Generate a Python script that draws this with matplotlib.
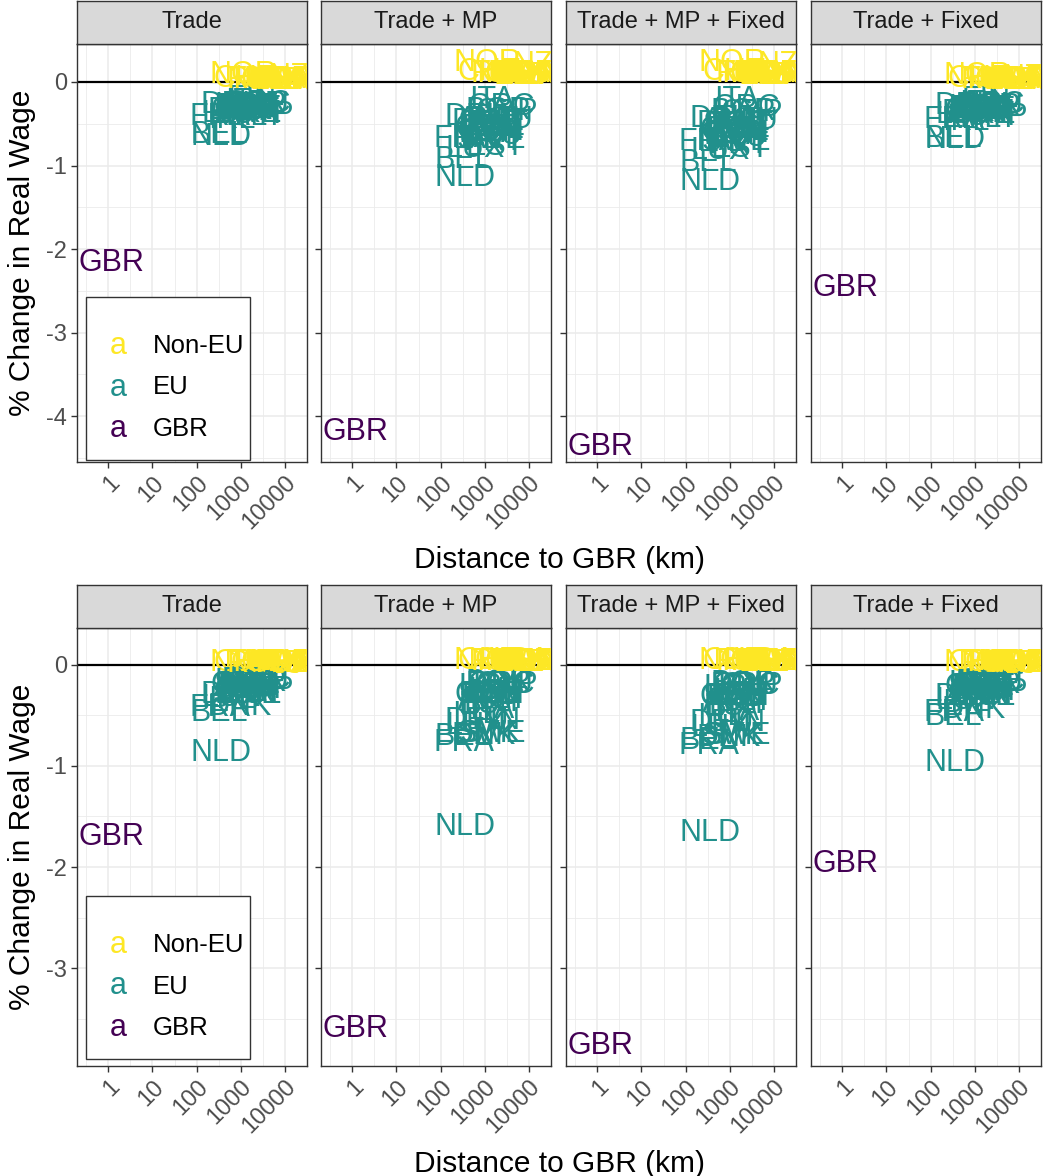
import numpy as np
import matplotlib
matplotlib.use("Agg")
import matplotlib.pyplot as plt
from matplotlib.patches import Rectangle

plt.rcParams['font.family'] = ['Liberation Sans', 'DejaVu Sans']

# ---- data -------------------------------------------------------------
countries = ["AUS", "AUT", "BEL", "BGR", "BRA", "CAN", "CHE", "CHN", "CYP", "CZE",
             "DEU", "DNK", "ESP", "EST", "FIN", "FRA", "GBR", "GRC", "HRV", "HUN",
             "IDN", "IND", "IRL", "ITA", "JPN", "KOR", "LTU", "LUX", "LVA", "MEX",
             "MLT", "NLD", "NOR", "NZL", "POL", "PRT", "ROU", "RUS", "SVK", "SVN",
             "SWE", "TUR", "TWN", "USA"]
distance_km = [17000, 1240, 320, 2020, 9200, 5400, 1300, 8100, 3200, 1030,
               640, 950, 1260, 1760, 1820, 340, 1.2, 2390, 1360, 1450,
               11700, 6700, 620, 1430, 9600, 8900, 1730, 600, 1680, 8900,
               2100, 360, 1150, 18800, 1450, 1580, 2100, 2500, 1300, 1220,
               1430, 2500, 9800, 5900]
group = ["Non-EU", "EU", "EU", "EU", "Non-EU", "Non-EU", "Non-EU", "Non-EU", "EU", "EU",
         "EU", "EU", "EU", "EU", "EU", "EU", "GBR", "EU", "EU", "EU",
         "Non-EU", "Non-EU", "EU", "EU", "Non-EU", "Non-EU", "EU", "EU", "EU", "Non-EU",
         "EU", "EU", "Non-EU", "Non-EU", "EU", "EU", "EU", "Non-EU", "EU", "EU",
         "EU", "Non-EU", "Non-EU", "Non-EU"]

scenarios = ["Trade", "Trade + MP", "Trade + MP + Fixed", "Trade + Fixed"]

# % change in real wage, first figure
top_trade = [0.01, -0.30, -0.64, -0.28, 0.01, 0.02, 0.03, 0.01, -0.40, -0.33,
             -0.27, -0.35, -0.30, -0.32, -0.20, -0.42, -2.17, -0.26, -0.29, -0.36,
             0.01, 0.01, -0.45, -0.24, 0.01, 0.02, -0.31, -0.38, -0.33, 0.01,
             -0.42, -0.66, 0.08, 0.06, -0.30, -0.35, -0.27, 0.02, -0.32, -0.30,
             -0.38, 0.02, 0.01, 0.02]
top_mp = [0.08, -0.45, -0.93, -0.35, 0.07, 0.10, 0.12, 0.08, -0.36, -0.55,
          -0.42, -0.48, -0.62, -0.78, -0.56, -0.68, -4.19, -0.30, -0.50, -0.60,
          0.07, 0.07, -0.70, -0.22, 0.09, 0.10, -0.65, -0.80, -0.60, 0.07,
          -0.50, -1.15, 0.23, 0.20, -0.55, -0.72, -0.45, 0.10, -0.60, -0.50,
          -0.70, 0.10, 0.09, 0.10]
top_mpf = [0.08, -0.47, -0.97, -0.36, 0.07, 0.10, 0.12, 0.08, -0.37, -0.57,
           -0.44, -0.50, -0.65, -0.80, -0.58, -0.72, -4.37, -0.31, -0.52, -0.62,
           0.07, 0.07, -0.73, -0.22, 0.09, 0.10, -0.67, -0.83, -0.62, 0.07,
           -0.52, -1.20, 0.23, 0.20, -0.57, -0.75, -0.47, 0.10, -0.62, -0.52,
           -0.72, 0.10, 0.09, 0.10]
top_fixed = [0.01, -0.32, -0.68, -0.30, 0.01, 0.02, 0.03, 0.01, -0.42, -0.35,
             -0.29, -0.37, -0.32, -0.34, -0.22, -0.45, -2.47, -0.28, -0.31, -0.38,
             0.01, 0.01, -0.48, -0.26, 0.01, 0.02, -0.33, -0.40, -0.35, 0.01,
             -0.44, -0.70, 0.07, 0.05, -0.32, -0.37, -0.29, 0.02, -0.34, -0.32,
             -0.40, 0.02, 0.01, 0.02]

# % change in real wage, second figure
bot_trade = [0.00, -0.22, -0.48, -0.18, 0.01, 0.02, 0.02, 0.01, -0.25, -0.20,
             -0.30, -0.42, -0.30, -0.20, -0.28, -0.43, -1.70, -0.15, -0.17, -0.22,
             0.00, 0.01, -0.35, -0.18, 0.01, 0.02, -0.20, -0.33, -0.19, 0.01,
             -0.28, -0.87, 0.02, 0.01, -0.22, -0.25, -0.16, 0.01, -0.24, -0.20,
             -0.30, 0.02, 0.01, 0.02]
bot_mp = [0.02, -0.35, -0.71, -0.18, 0.02, 0.03, 0.04, 0.02, -0.20, -0.30,
          -0.55, -0.70, -0.40, -0.30, -0.55, -0.77, -3.60, -0.20, -0.22, -0.30,
          0.02, 0.02, -0.50, -0.45, 0.03, 0.03, -0.28, -0.60, -0.26, 0.02,
          -0.35, -1.60, 0.04, 0.03, -0.30, -0.38, -0.20, 0.03, -0.68, -0.30,
          -0.68, 0.03, 0.03, 0.04]
bot_mpf = [0.02, -0.37, -0.75, -0.19, 0.02, 0.03, 0.04, 0.02, -0.21, -0.32,
           -0.57, -0.72, -0.42, -0.32, -0.57, -0.80, -3.77, -0.21, -0.23, -0.32,
           0.02, 0.02, -0.52, -0.47, 0.03, 0.03, -0.30, -0.62, -0.27, 0.02,
           -0.37, -1.66, 0.04, 0.03, -0.32, -0.40, -0.21, 0.03, -0.70, -0.32,
           -0.70, 0.03, 0.03, 0.04]
bot_fixed = [0.00, -0.24, -0.52, -0.20, 0.01, 0.02, 0.02, 0.01, -0.27, -0.22,
             -0.32, -0.45, -0.32, -0.22, -0.30, -0.48, -1.97, -0.17, -0.19, -0.24,
             0.00, 0.01, -0.38, -0.20, 0.01, 0.02, -0.22, -0.36, -0.21, 0.01,
             -0.30, -0.97, 0.02, 0.01, -0.24, -0.27, -0.18, 0.01, -0.26, -0.22,
             -0.32, 0.02, 0.01, 0.02]

legend_groups = ["Non-EU", "EU", "GBR"]
colors = {"Non-EU": "#FDE725", "EU": "#21908C", "GBR": "#440154"}

# ---- layout (pixels) --------------------------------------------------
W, H = 1045, 1176
fig = plt.figure(figsize=(W / 100, H / 100), dpi=100)


def box(x0, y0, w, h):
    return [x0 / W, 1 - (y0 + h) / H, w / W, h / H]


panel_lefts = [77, 321, 566, 811]
panel_w = 230
strip_h = 43
xlim = (10 ** -0.71, 10 ** 4.49)

blocks = [
    dict(values=[top_trade, top_mp, top_mpf, top_fixed], top=44, bottom=462,
         ylim=(-4.55, 0.455), yticks=[0, -1, -2, -3, -4], legend_top=297),
    dict(values=[bot_trade, bot_mp, bot_mpf, bot_fixed], top=628, bottom=1066,
         ylim=(-3.97, 0.366), yticks=[0, -1, -2, -3], legend_top=896),
]

for blk in blocks:
    ph = blk["bottom"] - blk["top"]
    for j, (name, vals) in enumerate(zip(scenarios, blk["values"])):
        ax = fig.add_axes(box(panel_lefts[j], blk["top"], panel_w, ph))
        ax.set_xscale("log")
        ax.set_xlim(*xlim)
        ax.set_ylim(*blk["ylim"])
        ax.set_facecolor("white")

        xt = [1, 10, 100, 1000, 10000]
        ax.set_xticks(xt)
        ax.set_xticklabels([str(v) for v in xt], rotation=45, ha="right",
                           va="top", rotation_mode="anchor", fontsize=17,
                           color="#4D4D4D")
        ax.set_xticks([10 ** (k + 0.5) for k in range(-1, 5)], minor=True)
        ax.set_yticks(blk["yticks"])
        ax.set_yticks([t - 0.5 for t in blk["yticks"]], minor=True)
        if j == 0:
            ax.set_yticklabels([str(t) for t in blk["yticks"]], fontsize=17,
                               color="#4D4D4D")
        else:
            ax.set_yticklabels([])
        ax.tick_params(which="major", length=4.2, width=1.0, color="#333333", pad=3)
        ax.tick_params(which="minor", length=0)
        ax.grid(which="major", color="#EBEBEB", lw=1.1)
        ax.grid(which="minor", color="#EBEBEB", lw=0.6)
        ax.set_axisbelow(True)
        for s in ax.spines.values():
            s.set_color("#333333")
            s.set_linewidth(1.0)

        ax.axhline(0, color="black", lw=1.6, zorder=2)

        for c, d, g, v in zip(countries, distance_km, group, vals):
            ax.text(d, v, c, color=colors[g], fontsize=22, ha="center",
                    va="center", clip_on=True, zorder=3)

        # facet strip
        sax = fig.add_axes(box(panel_lefts[j], blk["top"] - strip_h, panel_w, strip_h))
        sax.set_facecolor("#D9D9D9")
        sax.set_xticks([])
        sax.set_yticks([])
        for s in sax.spines.values():
            s.set_color("#333333")
            s.set_linewidth(1.0)
        sax.text(0.5, 0.5, name, ha="center", va="center", fontsize=17,
                 color="#1A1A1A", transform=sax.transAxes)

    # legend inside first panel
    lt = blk["legend_top"]
    fig.patches.append(Rectangle((86 / W, 1 - (lt + 163) / H), 164 / W, 163 / H,
                                 transform=fig.transFigure, facecolor="white",
                                 edgecolor="#333333", lw=1.0, zorder=5))
    for k, g in enumerate(legend_groups):
        yy = 1 - (lt + 49 + 41.5 * k) / H
        fig.text(118 / W, yy, "a", color=colors[g], fontsize=22, ha="center",
                 va="center", zorder=6)
        fig.text(153 / W, yy, g, color="black", fontsize=18.5, ha="left",
                 va="center", zorder=6)

    # axis titles
    fig.text(560 / W, 1 - (blk["bottom"] + 98) / H, "Distance to GBR (km)",
             fontsize=21.5, ha="center", va="center", color="black")
    fig.text(22 / W, 1 - ((blk["top"] + blk["bottom"]) / 2) / H,
             "% Change in Real Wage", fontsize=21.5, ha="center", va="center",
             rotation=90, color="black")

fig.savefig("out.png", dpi=100)
